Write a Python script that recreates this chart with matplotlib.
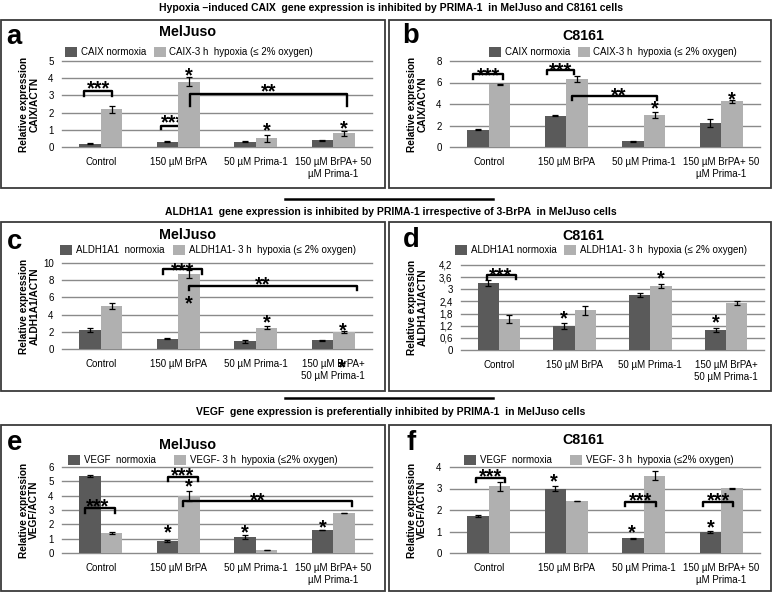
import matplotlib
matplotlib.use('Agg')
import matplotlib.pyplot as plt
from matplotlib import font_manager
from matplotlib.patches import Rectangle, Patch
from matplotlib.lines import Line2D
import numpy as np

W, H, DPI = 778, 595, 100

avail = {f.name for f in font_manager.fontManager.ttflist}
FAM = 'Liberation Sans Narrow' if 'Liberation Sans Narrow' in avail else 'Liberation Sans'
NARROW = FAM == 'Liberation Sans Narrow'
plt.rcParams['font.family'] = [FAM, 'DejaVu Sans']

# ---------------- data ----------------
cats_1 = ["Control", "150 µM BrPA", "50 µM Prima-1", "150 µM BrPA+ 50\nµM Prima-1"]
cats_2 = ["Control", "150 µM BrPA", "50 µM Prima-1", "150 µM BrPA+\n50 µM Prima-1"]

headers = ["Hypoxia –induced CAIX  gene expression is inhibited by PRIMA-1  in MelJuso and C8161 cells",
           "ALDH1A1  gene expression is inhibited by PRIMA-1 irrespective of 3-BrPA  in MelJuso cells",
           "VEGF  gene expression is preferentially inhibited by PRIMA-1  in MelJuso cells"]

# a: CAIX MelJuso
a_norm = [0.2, 0.3, 0.3, 0.4]
a_norm_err = [0.03, 0.03, 0.03, 0.03]
a_hyp = [2.2, 3.8, 0.5, 0.8]
a_hyp_err = [0.2, 0.25, 0.2, 0.15]
# b: CAIX C8161
b_norm = [1.6, 2.9, 0.55, 2.25]
b_norm_err = [0.05, 0.05, 0.05, 0.4]
b_hyp = [5.85, 6.35, 3.0, 4.25]
b_hyp_err = [0.05, 0.3, 0.3, 0.15]
# c: ALDH1A1 MelJuso
c_norm = [2.2, 1.2, 0.9, 1.0]
c_norm_err = [0.2, 0.05, 0.15, 0.03]
c_hyp = [5.0, 8.7, 2.5, 1.95]
c_hyp_err = [0.4, 0.5, 0.2, 0.1]
# d: ALDH1A1 C8161
d_norm = [3.3, 1.2, 2.7, 1.0]
d_norm_err = [0.15, 0.15, 0.1, 0.1]
d_hyp = [1.55, 1.97, 3.15, 2.3]
d_hyp_err = [0.2, 0.22, 0.1, 0.1]
# e: VEGF MelJuso
e_norm = [5.35, 0.85, 1.1, 1.6]
e_norm_err = [0.08, 0.05, 0.15, 0.03]
e_hyp = [1.4, 4.0, 0.2, 2.8]
e_hyp_err = [0.05, 0.35, 0.02, 0.02]
# f: VEGF C8161
f_norm = [1.72, 3.0, 0.68, 0.97]
f_norm_err = [0.03, 0.12, 0.02, 0.05]
f_hyp = [3.1, 2.42, 3.6, 3.02]
f_hyp_err = [0.2, 0.02, 0.2, 0.02]

yticks_a = [0, 1, 2, 3, 4, 5]
yticks_b = [0, 2, 4, 6, 8]
yticks_c = [0, 2, 4, 6, 8, 10]
yticks_d = [0, 0.6, 1.2, 1.8, 2.4, 3.0, 3.6, 4.2]
yticklabels_d = ["0", "0,6", "1,2", "1,8", "2,4", "3", "3,6", "4,2"]
yticks_e = [0, 1, 2, 3, 4, 5, 6]
yticks_f = [0, 1, 2, 3, 4]

# significance brackets: (x1, x2, y_low, y_top, label, label_x, label_y, behind_bars)
br_a = [(-0.22, 0.14, 2.95, 3.25, '***', -0.03, 3.7, False),
        (0.78, 1.14, 1.05, 1.25, '***', 0.93, 1.75, True),
        (1.15, 3.18, 2.4, 3.07, '**', 2.16, 3.55, False)]
st_a = [(1.14, 4.45), (2.14, 1.25), (3.14, 1.38)]
br_b = [(-0.2, 0.18, 6.3, 6.75, '***', 0.0, 7.2, False),
        (0.75, 1.1, 6.75, 7.2, '***', 0.92, 7.6, False),
        (1.08, 2.17, 4.4, 4.72, '**', 1.67, 5.3, False)]
st_b = [(2.14, 4.12), (3.14, 4.9)]
br_c = [(0.8, 1.3, 8.72, 9.3, '***', 1.05, 9.8, False),
        (1.14, 3.31, 6.9, 7.36, '**', 2.09, 8.1, False)]
st_c = [(1.14, 5.9), (2.14, 3.7), (3.12, 2.75), (3.11, -1.55)]
br_d = [(-0.16, 0.22, 3.49, 3.7, '***', 0.02, 3.95, False)]
st_d = [(0.86, 1.84), (2.14, 3.82), (2.86, 1.65)]
br_e = [(-0.2, 0.18, 2.8, 3.12, '***', -0.04, 3.6, False),
        (0.87, 1.25, 5.0, 5.3, '***', 1.05, 5.77, False),
        (1.06, 3.24, 3.3, 3.66, '**', 2.02, 4.05, False)]
st_e = [(1.13, 5.0), (0.86, 1.83), (1.86, 1.83), (2.86, 2.18)]
br_f = [(-0.16, 0.21, 3.28, 3.48, '***', 0.02, 3.8, False),
        (1.76, 2.16, 2.19, 2.39, '***', 1.96, 2.7, False),
        (2.76, 3.15, 2.19, 2.39, '***', 2.96, 2.7, False)]
st_f = [(0.84, 3.56), (1.85, 1.22), (2.87, 1.45)]

DARK = '#5a5a5a'
LIGHT = '#b0b0b0'
GRID = '#8a8a8a'
BOXC = '#3a3a3a'

fig = plt.figure(figsize=(W / DPI, H / DPI), dpi=DPI)
fig.patch.set_facecolor('white')
renderer = fig.canvas.get_renderer()


def fit_size(s, target, weight='normal', base=10.0):
    t = fig.text(0, 0, s, fontsize=base, fontweight=weight)
    w = t.get_window_extent(renderer=renderer).width
    t.remove()
    return base * target / w


# the reference text is horizontally condensed; with a regular-width font
# enlarge a little beyond the width match so the letters are not too short
boost = 1.0 if NARROW else 1.1
HS = fit_size(headers[0], 421, 'bold') * boost
TS = fit_size("MelJuso", 47, 'bold') * boost * 1.1
LS = fit_size("a", 12, 'bold') * 1.25
LEG = fit_size("CAIX normoxia", 66)
XT = fit_size("Control", 30) * (1.0 if NARROW else 1.06)
YL = fit_size("Relative expression", 88, 'bold') * (1.0 if NARROW else 1.08)
ST = fit_size("***", 21, 'bold') * 1.1


def fx(x):
    return x / W


def fy(y):
    return 1 - y / H


def star(ax, x, y, s, z=6):
    ax.annotate(s, xy=(x, y), xytext=(0, -0.57 * ST), textcoords='offset points',
                ha='center', va='baseline', fontsize=ST, fontweight='bold', color='black',
                zorder=z, annotation_clip=False)


def panel(box, axx, axy, ylim, yticks, ytl, cats, norm, norm_err, hyp, hyp_err,
          leg_labels, leg_x, leg_y, colsp, title, title_xy, letter, letter_xy,
          ylabel, ylabel_x, brackets, stars):
    x0, y0, x1, y1 = box
    fig.add_artist(Rectangle((fx(x0), fy(y1)), (x1 - x0) / W, (y1 - y0) / H,
                             transform=fig.transFigure, fill=False, ec=BOXC, lw=1.3))
    ax = fig.add_axes([fx(axx[0]), fy(axy[1]), (axx[1] - axx[0]) / W, (axy[1] - axy[0]) / H])
    x = np.arange(len(cats))
    ekw = dict(lw=0.9, capthick=0.9, ecolor='black')
    ax.bar(x - 0.14, norm, 0.28, color=DARK, yerr=norm_err, capsize=2.5, error_kw=ekw, zorder=3)
    ax.bar(x + 0.14, hyp, 0.28, color=LIGHT, yerr=hyp_err, capsize=2.5, error_kw=ekw, zorder=3)
    ax.set_xlim(-0.5, len(cats) - 0.5)
    ax.set_ylim(*ylim)
    ax.set_yticks(yticks)
    if ytl is not None:
        ax.set_yticklabels(ytl)
    ax.set_xticks(x)
    ax.set_xticklabels(cats, fontsize=XT, linespacing=1.15)
    ax.tick_params(axis='both', length=0, labelsize=XT)
    ax.tick_params(axis='x', pad=7.5)
    ax.tick_params(axis='y', pad=6)
    for sp in ax.spines.values():
        sp.set_visible(False)
    ax.yaxis.grid(True, color=GRID, lw=1.0, zorder=0)
    ax.set_axisbelow(True)
    for gl in ax.yaxis.get_gridlines():
        gl.set_clip_on(False)
    ax.text((ylabel_x - axx[0]) / (axx[1] - axx[0]), 0.5, ylabel, transform=ax.transAxes,
            rotation=90, ha='center', va='center', fontsize=YL, fontweight='bold',
            linespacing=1.1, multialignment='center')
    for (bx1, bx2, ylo, ytp, lab, lx, ly, behind) in brackets:
        z = 2 if behind else 5
        ax.plot([bx1, bx1, bx2, bx2], [ylo, ytp, ytp, ylo], color='black', lw=1.7,
                solid_joinstyle='round', clip_on=False, zorder=z)
        star(ax, lx, ly, lab, z=z)
    for (sx, sy) in stars:
        star(ax, sx, sy, '*')
    handles = [Patch(fc=DARK, ec='none'), Patch(fc=LIGHT, ec='none')]
    ax.legend(handles, leg_labels, ncol=2, frameon=False, loc='center left',
              bbox_to_anchor=(fx(leg_x), fy(leg_y)), bbox_transform=fig.transFigure,
              fontsize=LEG, handlelength=1.25, handleheight=1.25, handletextpad=0.35,
              columnspacing=colsp, borderpad=0, borderaxespad=0)
    fig.text(fx(title_xy[0]), fy(title_xy[1]), title, ha='center', va='center',
             fontsize=TS, fontweight='bold')
    fig.text(fx(letter_xy[0]), fy(letter_xy[1]), letter, ha='center', va='center',
             fontsize=LS, fontweight='bold')
    return ax


# headers and separators
for hdr, hy in zip(headers, [8, 212, 412]):
    fig.text(fx(391), fy(hy), hdr, ha='center', va='center', fontsize=HS, fontweight='bold')
for ly in [199, 398]:
    fig.add_artist(Line2D([fx(285), fx(493)], [fy(ly), fy(ly)], transform=fig.transFigure,
                          color='black', lw=1.8))

LX = (62, 372)
RX = (450, 760)
RXD = (461, 764)

panel((1, 20, 385, 188), LX, (61, 147), (0, 5), yticks_a, None, cats_1, a_norm, a_norm_err,
      a_hyp, a_hyp_err, ["CAIX normoxia", "CAIX-3 h  hypoxia (≤ 2% oxygen)"], 65, 52, 0.8,
      "MelJuso", (188, 32), "a", (14, 37), "Relative expression\nCAIX/ACTN", 29, br_a, st_a)
panel((389, 20, 771, 188), RX, (61, 147), (0, 8), yticks_b, None, cats_1, b_norm, b_norm_err,
      b_hyp, b_hyp_err, ["CAIX normoxia", "CAIX-3 h  hypoxia (≤ 2% oxygen)"], 489, 52, 0.8,
      "C8161", (583, 36), "b", (411, 36), "Relative expression\nCAIX/ACYN", 417, br_b, st_b)
panel((1, 222, 385, 391), LX, (263, 349), (0, 10), yticks_c, None, cats_2, c_norm, c_norm_err,
      c_hyp, c_hyp_err, ["ALDH1A1  normoxia", "ALDH1A1- 3 h  hypoxia (≤ 2% oxygen)"], 60, 250, 0.9,
      "MelJuso", (188, 235), "c", (15, 242), "Relative expression\nALDH1A1/ACTN", 29, br_c, st_c)
panel((389, 222, 771, 391), RXD, (265, 350), (0, 4.2), yticks_d, yticklabels_d, cats_2, d_norm,
      d_norm_err, d_hyp, d_hyp_err, ["ALDH1A1 normoxia", "ALDH1A1- 3 h  hypoxia (≤ 2% oxygen)"],
      455, 250, 0.8, "C8161", (583, 236), "d", (411, 240),
      "Relative expression\nALDH1A1/ACTN", 417, br_d, st_d)
panel((1, 425, 385, 591), LX, (467, 553), (0, 6), yticks_e, None, cats_1, e_norm, e_norm_err,
      e_hyp, e_hyp_err, ["VEGF  normoxia", "VEGF- 3 h  hypoxia (≤2% oxygen)"], 68, 460, 1.9,
      "MelJuso", (188, 445), "e", (15, 443), "Relative expression\nVEGF/ACTN", 29, br_e, st_e)
panel((389, 425, 771, 591), RX, (467, 553), (0, 4), yticks_f, None, cats_1, f_norm, f_norm_err,
      f_hyp, f_hyp_err, ["VEGF  normoxia", "VEGF- 3 h  hypoxia (≤2% oxygen)"], 464, 460, 1.9,
      "C8161", (583, 440), "f", (411, 443), "Relative expression\nVEGF/ACTN", 417, br_f, st_f)

fig.savefig('out.png', dpi=DPI, facecolor='white')
